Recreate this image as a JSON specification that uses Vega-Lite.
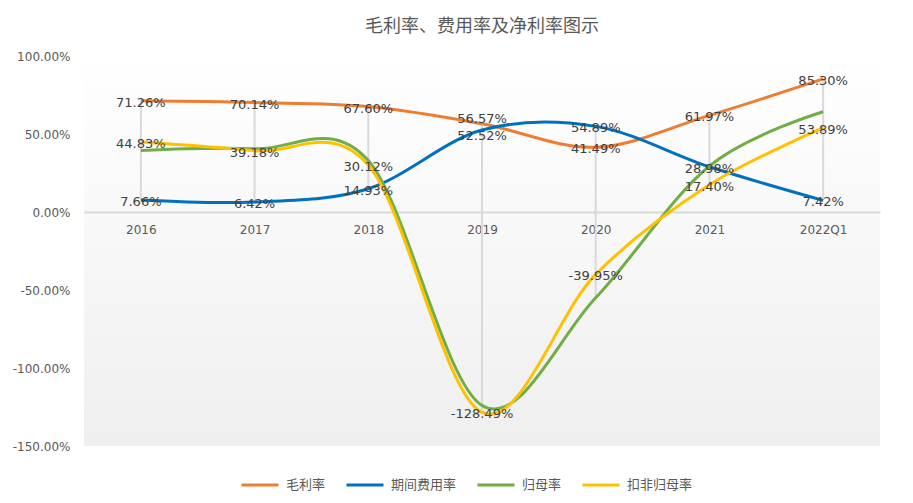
{
  "$schema": "https://vega.github.io/schema/vega-lite/v6.json",
  "autosize": "none",
  "width": 796,
  "height": 390,
  "padding": {"left": 84, "top": 56, "right": 33, "bottom": 57},
  "background": "white",
  "title": {
    "text": "毛利率、费用率及净利率图示",
    "font": "Noto Sans CJK SC",
    "fontSize": 18,
    "fontWeight": "normal",
    "color": "#595959",
    "anchor": "middle",
    "offset": 14,
    "frame": "group"
  },
  "config": {
    "locale": {
      "number": {"decimal": ".", "thousands": ",", "grouping": [3], "currency": ["", ""], "minus": "-"}
    },
    "view": {
      "stroke": null,
      "fill": {
        "gradient": "linear",
        "x1": 0, "y1": 0, "x2": 0, "y2": 1,
        "stops": [
          {"offset": 0, "color": "#ffffff"},
          {"offset": 1, "color": "#efefef"}
        ]
      }
    },
    "font": "Noto Sans CJK SC"
  },
  "data": {
    "values": [
      {"year": "2016", "series": "毛利率", "v": 0.7126},
      {"year": "2017", "series": "毛利率", "v": 0.7014},
      {"year": "2018", "series": "毛利率", "v": 0.6760},
      {"year": "2019", "series": "毛利率", "v": 0.5657},
      {"year": "2020", "series": "毛利率", "v": 0.4149},
      {"year": "2021", "series": "毛利率", "v": 0.6197},
      {"year": "2022Q1", "series": "毛利率", "v": 0.8530},
      {"year": "2016", "series": "期间费用率", "v": 0.0766},
      {"year": "2017", "series": "期间费用率", "v": 0.0642},
      {"year": "2018", "series": "期间费用率", "v": 0.1493},
      {"year": "2019", "series": "期间费用率", "v": 0.5252},
      {"year": "2020", "series": "期间费用率", "v": 0.5489},
      {"year": "2021", "series": "期间费用率", "v": 0.2898},
      {"year": "2022Q1", "series": "期间费用率", "v": 0.0742},
      {"year": "2016", "series": "归母率", "v": 0.395},
      {"year": "2017", "series": "归母率", "v": 0.405},
      {"year": "2018", "series": "归母率", "v": 0.33},
      {"year": "2019", "series": "归母率", "v": -1.24},
      {"year": "2020", "series": "归母率", "v": -0.55},
      {"year": "2021", "series": "归母率", "v": 0.295},
      {"year": "2022Q1", "series": "归母率", "v": 0.643},
      {"year": "2016", "series": "扣非归母率", "v": 0.4483},
      {"year": "2017", "series": "扣非归母率", "v": 0.3918},
      {"year": "2018", "series": "扣非归母率", "v": 0.3012},
      {"year": "2019", "series": "扣非归母率", "v": -1.2849},
      {"year": "2020", "series": "扣非归母率", "v": -0.3995},
      {"year": "2021", "series": "扣非归母率", "v": 0.1740},
      {"year": "2022Q1", "series": "扣非归母率", "v": 0.5389}
    ]
  },
  "encoding": {
    "x": {
      "field": "year",
      "type": "ordinal",
      "scale": {"type": "point", "padding": 0.5},
      "axis": {
        "title": null,
        "labelAngle": 0,
        "offset": -234,
        "domainColor": "#d9d9d9",
        "domainWidth": 2,
        "ticks": false,
        "grid": false,
        "labelPadding": 12,
        "labelColor": "#595959",
        "labelFontSize": 12,
        "labelFont": "DejaVu Sans"
      }
    },
    "y": {
      "field": "v",
      "type": "quantitative",
      "scale": {"domain": [-1.5, 1], "nice": false},
      "axis": {
        "title": null,
        "values": [-1.5, -1, -0.5, 0, 0.5, 1],
        "format": ".2%",
        "domain": false,
        "ticks": false,
        "grid": false,
        "labelPadding": 14,
        "labelColor": "#595959",
        "labelFontSize": 12,
        "labelFont": "DejaVu Sans"
      }
    }
  },
  "layer": [
    {
      "mark": {"type": "rule", "color": "#d9d9d9", "strokeWidth": 2},
      "encoding": {
        "y": {"aggregate": "min", "field": "v", "type": "quantitative"},
        "y2": {"aggregate": "max", "field": "v"}
      }
    },
    {
      "mark": {"type": "line", "interpolate": "cardinal", "strokeWidth": 3},
      "encoding": {
        "color": {
          "field": "series",
          "type": "nominal",
          "sort": ["毛利率", "期间费用率", "归母率", "扣非归母率"],
          "scale": {
            "domain": ["毛利率", "期间费用率", "归母率", "扣非归母率"],
            "range": ["#ED7D31", "#0070C0", "#70AD47", "#FFC000"]
          },
          "legend": {
            "title": null,
            "orient": "none",
            "direction": "horizontal",
            "legendX": 156,
            "legendY": 409,
            "symbolType": "stroke",
            "symbolSize": 1369,
            "symbolStrokeWidth": 3,
            "labelFontSize": 13,
            "labelColor": "#595959",
            "labelOffset": 6,
            "columnPadding": 14
          }
        }
      }
    },
    {
      "transform": [{"filter": "datum.series != '归母率' && !(datum.year == '2019' && datum.series != '扣非归母率')"}],
      "mark": {"type": "text", "fontSize": 13, "color": "#404040", "dy": 2, "font": "DejaVu Sans"},
      "encoding": {
        "text": {"field": "v", "type": "quantitative", "format": ".2%"}
      }
    },
    {
      "transform": [{"filter": "datum.year == '2019' && datum.series == '毛利率'"}],
      "mark": {"type": "text", "fontSize": 13, "color": "#404040", "dy": -5, "font": "DejaVu Sans"},
      "encoding": {
        "text": {"field": "v", "type": "quantitative", "format": ".2%"}
      }
    },
    {
      "transform": [{"filter": "datum.year == '2019' && datum.series == '期间费用率'"}],
      "mark": {"type": "text", "fontSize": 13, "color": "#404040", "dy": 6, "font": "DejaVu Sans"},
      "encoding": {
        "text": {"field": "v", "type": "quantitative", "format": ".2%"}
      }
    }
  ]
}
